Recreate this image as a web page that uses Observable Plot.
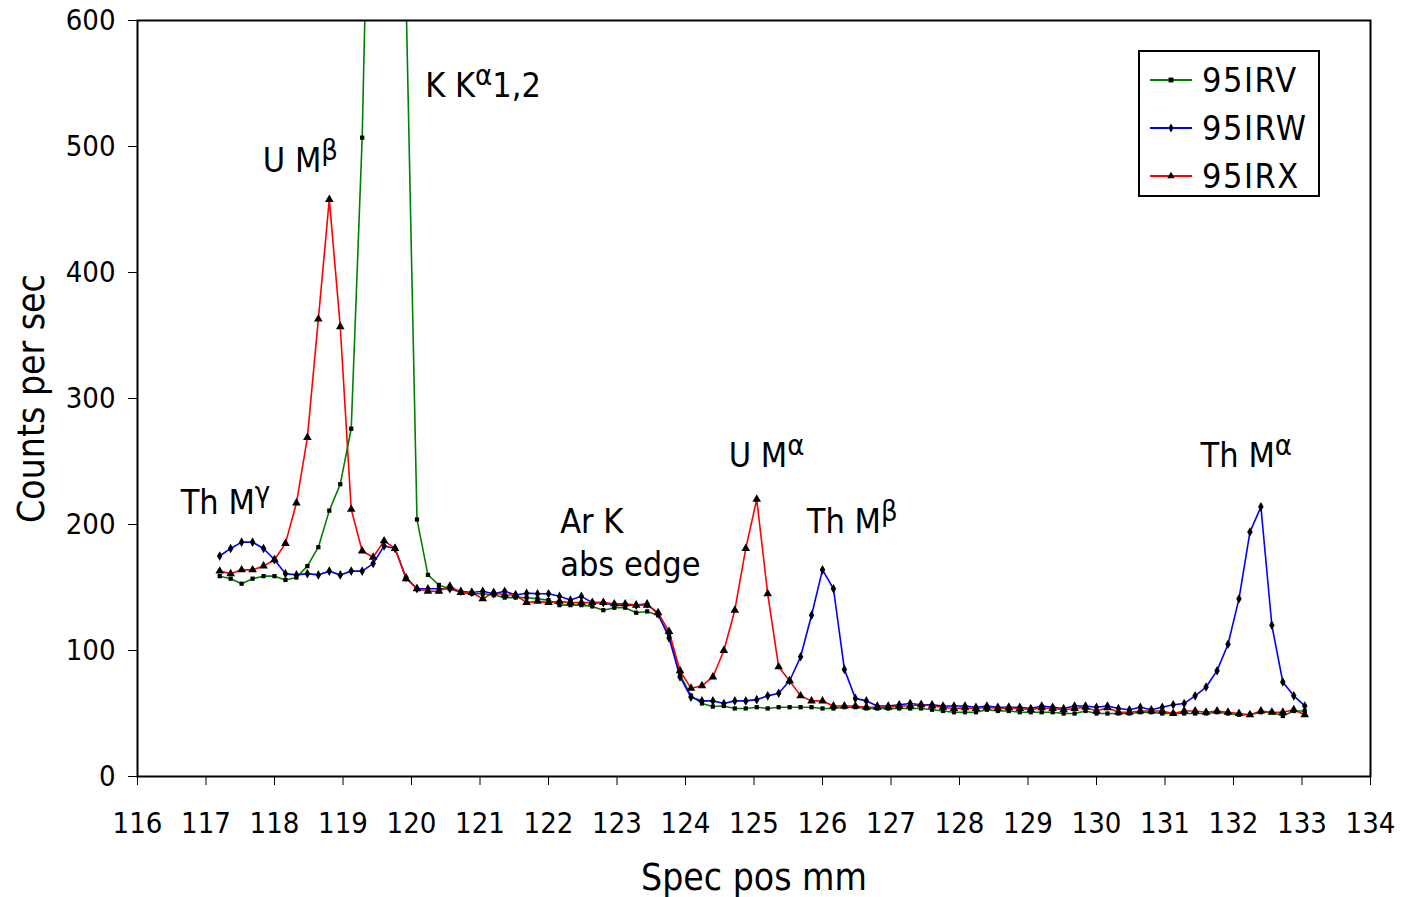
<!DOCTYPE html>
<html>
<head>
<meta charset="utf-8">
<script src="https://cdn.jsdelivr.net/npm/d3@7"></script>
<script src="https://cdn.jsdelivr.net/npm/@observablehq/plot@0.6"></script>
<style>
  body { margin: 0; background: #fff; }
  #wrap { position: relative; width: 1403px; height: 897px; font-family: "DejaVu Sans Condensed", "DejaVu Sans", sans-serif; }
  #legend { position: absolute; left: 1138px; top: 50px; width: 178px; height: 143px; border: 2px solid #000; background: #fff; }
  .lrow { position: absolute; left: 10px; height: 40px; display: flex; align-items: center; }
  .lrow span { margin-left: 10px; font-size: 34px; letter-spacing: 1.5px; color: #000; }
</style>
</head>
<body>
<div id="wrap"></div>
<script>
// Spectrometer position (mm) of each measured point
const positions = [
  117.20, 117.36, 117.52, 117.68, 117.84, 118.00, 118.16, 118.32, 118.48, 118.64,
  118.80, 118.96, 119.12, 119.28, 119.44, 119.60, 119.76, 119.92, 120.08, 120.24,
  120.40, 120.56, 120.72, 120.88, 121.04, 121.20, 121.36, 121.52, 121.68, 121.84,
  122.00, 122.16, 122.32, 122.48, 122.64, 122.80, 122.96, 123.12, 123.28, 123.44,
  123.60, 123.76, 123.92, 124.08, 124.24, 124.40, 124.56, 124.72, 124.88, 125.04,
  125.20, 125.36, 125.52, 125.68, 125.84, 126.00, 126.16, 126.32, 126.48, 126.64,
  126.80, 126.96, 127.12, 127.28, 127.44, 127.60, 127.76, 127.92, 128.08, 128.24,
  128.40, 128.56, 128.72, 128.88, 129.04, 129.20, 129.36, 129.52, 129.68, 129.84,
  130.00, 130.16, 130.32, 130.48, 130.64, 130.80, 130.96, 131.12, 131.28, 131.44,
  131.60, 131.76, 131.92, 132.08, 132.24, 132.40, 132.56, 132.72, 132.88, 133.04
];

// Counts per sec for each sample
const counts95IRV = [
  159, 157, 153, 157, 159, 159, 156, 158, 167, 182,
  211, 232, 276, 507, 900, 1150, 1050, 620, 204, 160,
  152, 149, 146, 145, 145, 144, 142, 142, 142, 141,
  140, 136, 136, 136, 135, 132, 134, 134, 130, 131,
  128, 112, 81, 64, 58, 55.5, 56, 54, 54, 55,
  54, 55, 55, 55, 55, 54, 54, 55, 55, 54,
  54, 54, 54, 54, 54, 53, 52, 51, 51, 51,
  53, 52, 52, 51, 51, 51, 51, 50, 50, 52,
  50, 50, 50, 50, 51, 51, 50, 50, 50, 50,
  50, 51, 50, 49, 49, 51, 51, 48, 52, 52
];
const counts95IRW = [
  175, 181, 186, 186, 181, 172, 161, 160, 161, 160,
  163, 160, 163, 163, 169, 183, 181, 158, 149, 149,
  149, 149, 147, 146, 147, 145, 147, 144, 145.5, 145,
  145, 143, 140, 143, 138, 138, 136, 136, 136, 137,
  129, 110, 79, 63, 60, 60, 58, 60, 60, 61,
  64, 66, 76, 95, 128, 164, 149, 85, 62, 60,
  56, 56, 57, 58, 57, 57, 56, 56, 56, 55,
  56, 55, 55, 55, 54, 56, 55, 54, 56, 56,
  55, 56, 54, 53, 55, 53, 55, 57, 58, 64,
  71, 84, 105, 141, 194, 214, 120, 75, 64, 56
];
const counts95IRX = [
  163, 161, 164, 164, 167, 172, 185, 217, 269, 363,
  458, 357, 212, 179, 174, 187, 181, 157, 149, 147,
  147, 151, 146, 146, 141, 146, 144, 144, 138, 139,
  138, 139, 138, 138, 138, 138, 137, 137, 136, 136,
  130, 115, 84, 70, 72, 79, 100, 132, 181, 220,
  145, 87, 76, 64, 60, 60, 56, 56, 56, 55,
  55, 55, 56, 56, 57, 56, 55, 54, 54.5, 54,
  55, 54, 54.5, 54, 53, 54.5, 54, 53, 54, 55,
  52, 54.5, 51, 51, 52, 52, 52, 50, 52, 52,
  51, 52, 51, 50, 49, 52, 51, 51, 53, 49
];

const seriesNames = ["95IRV", "95IRW", "95IRX"];
const seriesColors = ["#008000", "#0000ff", "#ff0000"];
const seriesSymbols = ["square", "diamond", "triangle"];
const seriesValues = [counts95IRV, counts95IRW, counts95IRX];

const xTicks = [116, 117, 118, 119, 120, 121, 122, 123, 124, 125, 126, 127, 128, 129, 130, 131, 132, 133, 134];
const yTicks = [0, 100, 200, 300, 400, 500, 600];

// Peak annotations (^{...} = superscript)
const peakLabels = ["Th M^{γ}", "U M^{β}", "K K^{α}1,2", "Ar K", "abs edge", "U M^{α}", "Th M^{β}", "Th M^{α}"];
const peakX = [116.63, 117.83, 120.20, 122.17, 122.17, 124.63, 125.77, 131.52];
const peakY = [208.5, 479.5, 539.5, 193, 159, 246, 193, 246];

const xLabel = "Spec pos mm";
const yLabel = "Counts per sec";

const annotations = peakLabels.map((label, i) => ({label, x: peakX[i], y: peakY[i]}));

const marks = [];
seriesNames.forEach((name, s) => {
  const rows = positions.map((x, i) => ({x, y: seriesValues[s][i], series: name}));
  marks.push(Plot.line(rows, {x: "x", y: "y", stroke: seriesColors[s], strokeWidth: 1.6, clip: true}));
});
const dotR = {square: 2.4, diamond: 2.9, triangle: 3.2};
seriesNames.forEach((name, s) => {
  const rows = positions.map((x, i) => ({x, y: seriesValues[s][i], series: name}));
  marks.push(Plot.dot(rows, {x: "x", y: "y", symbol: () => seriesSymbols[s], r: dotR[seriesSymbols[s]], fill: "black", stroke: "none", clip: true}));
});
marks.push(Plot.text(annotations, {x: "x", y: "y", text: "label", textAnchor: "start", lineAnchor: "bottom", fontSize: 34, fill: "black"}));
marks.push(Plot.text([yLabel], {frameAnchor: "left", textAnchor: "middle", rotate: -90, dx: -105, fontSize: 37, fill: "black"}));
marks.push(Plot.text([xLabel], {frameAnchor: "bottom", textAnchor: "middle", dy: 113, fontSize: 37, fill: "black"}));
marks.push(Plot.frame({stroke: "black", strokeWidth: 2}));

const chart = Plot.plot({
  width: 1403,
  height: 897,
  marginLeft: 137,
  marginRight: 33,
  marginTop: 20,
  marginBottom: 121,
  style: {fontFamily: '"DejaVu Sans Condensed", "DejaVu Sans", sans-serif', fontSize: "29px", background: "white", color: "black"},
  x: {domain: [116, 134], ticks: xTicks, tickSize: 9, tickPadding: 27, label: null, tickFormat: d => String(d)},
  y: {domain: [0, 600], ticks: yTicks, tickSize: 9, tickPadding: 13, label: null, tickFormat: d => String(d)},
  symbol: {type: "identity"},
  marks
});

// superscripts
chart.querySelectorAll("text").forEach(t => {
  const s = t.textContent;
  if (!s.includes("^{")) return;
  const parts = s.split(/(\^\{[^}]*\})/).filter(p => p.length);
  while (t.firstChild) t.removeChild(t.firstChild);
  const ns = "http://www.w3.org/2000/svg";
  let raised = false;
  parts.forEach(p => {
    const ts = document.createElementNS(ns, "tspan");
    if (p.startsWith("^{")) {
      ts.textContent = p.slice(2, -1);
      ts.setAttribute("font-size", "29");
      ts.setAttribute("dy", "-12");
      raised = true;
    } else {
      ts.textContent = p;
      if (raised) { ts.setAttribute("dy", "12"); raised = false; }
    }
    t.appendChild(ts);
  });
});

const wrap = document.getElementById("wrap");
wrap.appendChild(chart);

// legend
const legend = document.createElement("div");
legend.id = "legend";
seriesNames.forEach((name, s) => {
  const row = document.createElement("div");
  row.className = "lrow";
  row.style.top = (8 + s * 48) + "px";
  const svg = d3.create("svg").attr("width", 42).attr("height", 20);
  svg.append("line").attr("x1", 0).attr("x2", 42).attr("y1", 10).attr("y2", 10).attr("stroke", seriesColors[s]).attr("stroke-width", 2);
  const sym = {square: d3.symbolSquare, diamond: d3.symbolDiamond, triangle: d3.symbolTriangle}[seriesSymbols[s]];
  svg.append("path").attr("d", d3.symbol(sym, 24)()).attr("transform", "translate(21,10)").attr("fill", "black");
  row.appendChild(svg.node());
  const span = document.createElement("span");
  span.textContent = name;
  row.appendChild(span);
  legend.appendChild(row);
});
wrap.appendChild(legend);
</script>
</body>
</html>
